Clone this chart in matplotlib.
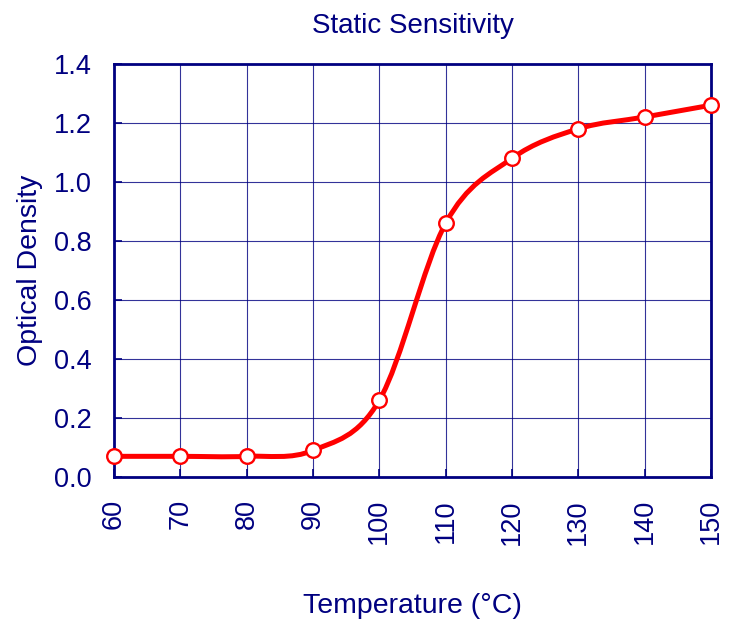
import matplotlib
matplotlib.use("Agg")
import matplotlib.pyplot as plt
from matplotlib.path import Path
from matplotlib.patches import PathPatch

plt.rcParams['font.family'] = ['Liberation Sans', 'DejaVu Sans']

temperature = [60, 70, 80, 90, 100, 110, 120, 130, 140, 150]
density = [0.07, 0.07, 0.07, 0.09, 0.26, 0.86, 1.08, 1.18, 1.22, 1.26]

x_ticks = [60, 70, 80, 90, 100, 110, 120, 130, 140, 150]
y_ticks = [0.0, 0.2, 0.4, 0.6, 0.8, 1.0, 1.2, 1.4]

NAVY = '#000080'
RED = '#ff0000'


def smooth_path(xs, ys):
    # Excel-style smoothing: cubic bezier segments with catmull-rom control points
    n = len(xs)
    verts = [(xs[0], ys[0])]
    codes = [Path.MOVETO]
    for i in range(n - 1):
        x0, y0 = (xs[i - 1], ys[i - 1]) if i > 0 else (xs[i], ys[i])
        x1, y1 = xs[i], ys[i]
        x2, y2 = xs[i + 1], ys[i + 1]
        x3, y3 = (xs[i + 2], ys[i + 2]) if i + 2 < n else (x2, y2)
        c1 = (x1 + (x2 - x0) / 6, y1 + (y2 - y0) / 6)
        c2 = (x2 - (x3 - x1) / 6, y2 - (y3 - y1) / 6)
        verts += [c1, c2, (x2, y2)]
        codes += [Path.CURVE4] * 3
    return Path(verts, codes)


fig = plt.figure(figsize=(7.37, 6.24), dpi=100)
ax = fig.add_axes([0.1547, 0.2356, 0.81, 0.662])

ax.set_xlim(60, 150)
ax.set_ylim(0, 1.4)
ax.set_xticks(x_ticks)
ax.set_yticks(y_ticks)
ax.set_yticklabels([f"{v:.1f}" for v in y_ticks])
ax.set_xticklabels([str(v) for v in x_ticks], rotation=90)

ax.grid(True, color=NAVY, linewidth=0.8, alpha=0.8)
ax.set_axisbelow(True)

patch = PathPatch(smooth_path(temperature, density), facecolor='none',
                  edgecolor=RED, linewidth=3.6, zorder=3, clip_on=False)
ax.add_patch(patch)
ax.plot(temperature, density, linestyle='none', marker='o', markersize=10.5,
        markerfacecolor='white', markeredgecolor=RED, markeredgewidth=1.7,
        zorder=4, clip_on=False)

for s in ax.spines.values():
    s.set_color(NAVY)
    s.set_linewidth(2.0)

ax.tick_params(direction='in', length=6, width=1.2, color=NAVY,
               labelcolor=NAVY, labelsize=19.5, pad=16)

ax.set_title("Static Sensitivity", color=NAVY, fontsize=20, pad=22.5)
ax.set_xlabel("Temperature (°C)", color=NAVY, fontsize=20.5, labelpad=35)
ax.set_ylabel("Optical Density", color=NAVY, fontsize=20.5, labelpad=8)

fig.savefig("out.png", dpi=100)
